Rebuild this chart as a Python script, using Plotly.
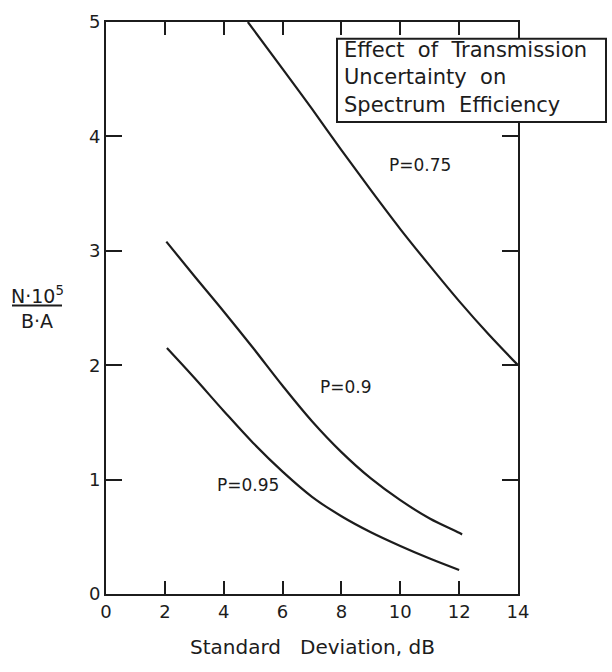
import plotly.graph_objects as go

# Standard deviation (dB) and N*10^5/(B*A) for each probability curve
x_p075 = [4.82, 6, 7, 8, 9, 10, 11, 12, 13, 14]
y_p075 = [5.0, 4.59, 4.24, 3.88, 3.53, 3.19, 2.87, 2.56, 2.27, 2.0]

x_p090 = [2.05, 3, 4, 5, 6, 7, 8, 9, 10, 11, 12, 12.1]
y_p090 = [3.08, 2.78, 2.47, 2.15, 1.82, 1.51, 1.24, 1.01, 0.82, 0.66, 0.535, 0.52]

x_p095 = [2.07, 3, 4, 5, 6, 7, 8, 9, 10, 11, 12]
y_p095 = [2.15, 1.89, 1.60, 1.32, 1.07, 0.85, 0.68, 0.54, 0.42, 0.31, 0.21]

curve_labels = ["P=0.75", "P=0.9", "P=0.95"]
label_x = [10.67, 8.16, 4.81]
label_y = [3.75, 1.81, 0.95]

x_ticks = [0, 2, 4, 6, 8, 10, 12, 14]
y_ticks = [0, 1, 2, 3, 4, 5]

caption = "Effect  of  Transmission<br>Uncertainty  on<br>Spectrum  Efficiency"

INK = "#1c1c1c"
FONT = "DejaVu Sans"

fig = go.Figure()
for xs, ys in [(x_p075, y_p075), (x_p090, y_p090), (x_p095, y_p095)]:
    fig.add_trace(go.Scatter(
        x=xs, y=ys, mode="lines",
        line=dict(color=INK, width=2.2, shape="spline", smoothing=1.0),
        showlegend=False, hoverinfo="skip",
    ))

annotations = []
for text, lx, ly in zip(curve_labels, label_x, label_y):
    annotations.append(dict(
        x=lx, y=ly, xref="x", yref="y", text=text, showarrow=False,
        font=dict(family=FONT, size=17, color=INK),
        xanchor="center", yanchor="middle",
    ))

# Pixel positions relative to the plot area
PLOT_L, PLOT_R, PLOT_T, PLOT_B = 106, 518, 11, 594
W = PLOT_R - PLOT_L
H = PLOT_B - PLOT_T


def px(xp):
    return (xp - PLOT_L) / W


def py(yp):
    return (PLOT_B - yp) / H


shapes = [
    # boxed caption in the upper right corner
    dict(type="rect", xref="paper", yref="paper",
         x0=px(337), x1=px(606), y0=py(113), y1=py(28),
         line=dict(color=INK, width=2), fillcolor="white", layer="above"),
    # fraction bar of the y-axis label
    dict(type="line", xref="paper", yref="paper",
         x0=px(12), x1=px(62), y0=py(300), y1=py(300),
         line=dict(color=INK, width=2)),
]

annotations.append(dict(
    x=px(342), y=py(68), xref="paper", yref="paper", text=caption,
    showarrow=False, xanchor="left", yanchor="middle", align="left",
    font=dict(family=FONT, size=21, color=INK),
))

annotations.append(dict(
    x=px(37), y=py(289), xref="paper", yref="paper",
    text="N·10<sup>5</sup>", showarrow=False, xanchor="center", yanchor="middle",
    font=dict(family=FONT, size=19, color=INK),
))
annotations.append(dict(
    x=px(37), y=py(316), xref="paper", yref="paper",
    text="B·A", showarrow=False, xanchor="center", yanchor="middle",
    font=dict(family=FONT, size=19, color=INK),
))
annotations.append(dict(
    x=px(312), y=py(648), xref="paper", yref="paper",
    text="Standard   Deviation, dB", showarrow=False,
    xanchor="center", yanchor="middle",
    font=dict(family=FONT, size=20, color=INK),
))

axis_common = dict(
    showline=True, linecolor=INK, linewidth=2, mirror="ticks",
    ticks="inside", tickcolor=INK, tickwidth=1.6,
    showgrid=False, zeroline=False,
    tickfont=dict(family=FONT, size=18, color=INK),
)

fig.update_layout(
    width=612, height=672,
    margin=dict(l=PLOT_L, r=612 - PLOT_R, t=PLOT_T, b=672 - PLOT_B),
    paper_bgcolor="white", plot_bgcolor="white",
    xaxis=dict(range=[0, 14], tickvals=x_ticks, ticklen=13, **axis_common),
    yaxis=dict(range=[0, 5], tickvals=y_ticks, ticklen=16, **axis_common),
    shapes=shapes, annotations=annotations,
)

fig.write_html("out.html")
